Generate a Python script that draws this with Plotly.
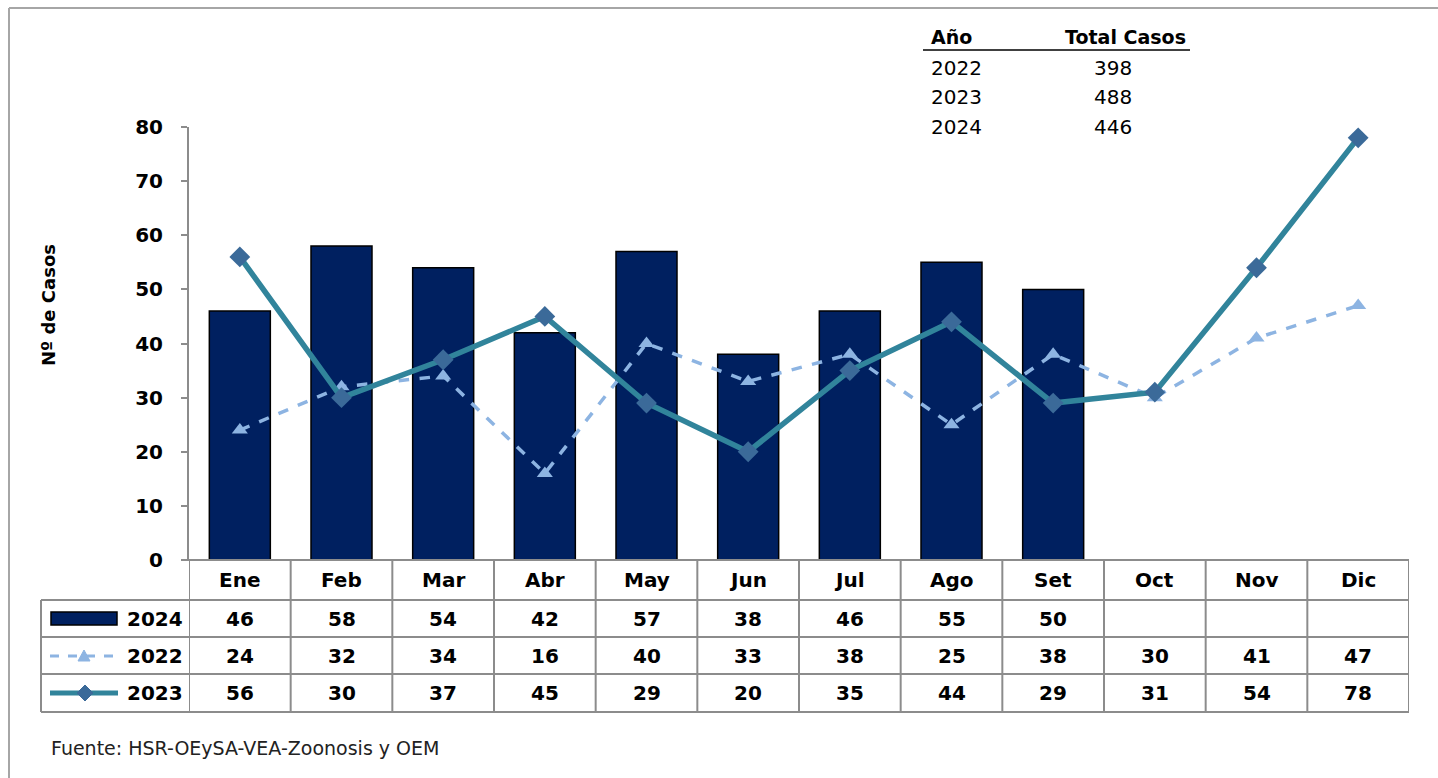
import plotly.graph_objects as go

months = ["Ene", "Feb", "Mar", "Abr", "May", "Jun", "Jul", "Ago", "Set", "Oct", "Nov", "Dic"]
cases_2024 = [46, 58, 54, 42, 57, 38, 46, 55, 50, None, None, None]
cases_2022 = [24, 32, 34, 16, 40, 33, 38, 25, 38, 30, 41, 47]
cases_2023 = [56, 30, 37, 45, 29, 20, 35, 44, 29, 31, 54, 78]
total_years = ["2022", "2023", "2024"]
total_cases = [398, 488, 446]
y_ticks = [0, 10, 20, 30, 40, 50, 60, 70, 80]

W, H = 1438, 778
NAVY = "#002060"
TEAL = "#31849B"
DIAM = "#3B6A99"
LBLUE = "#8DB4E2"
GRID = "#8C8C8C"
FONT = "DejaVu Sans"


def px(x):
    return x / W


def py(y):
    return 1 - y / H


fig = go.Figure()
fig.add_trace(go.Bar(x=months, y=cases_2024, name="2024", marker=dict(color=NAVY, line=dict(color="black", width=1.5)), width=0.6))
fig.add_trace(go.Scatter(x=months, y=cases_2022, name="2022", mode="lines+markers",
                         line=dict(color=LBLUE, width=3.5, dash="dash"),
                         marker=dict(symbol="triangle-up", size=14, color=LBLUE)))
fig.add_trace(go.Scatter(x=months, y=cases_2023, name="2023", mode="lines+markers",
                         line=dict(color=TEAL, width=5.5),
                         marker=dict(symbol="diamond", size=16, color=DIAM)))

shapes = []
annotations = []


def note(x, y, text, font, xref="paper", xanchor="center", **kw):
    d = dict(x=x, xref=xref, y=y, yref="paper", text=text, showarrow=False, font=font,
             xanchor=xanchor, yanchor="middle")
    d.update(kw)
    annotations.append(d)


# outer frame (left and top)
shapes.append(dict(type="line", xref="paper", yref="paper", x0=px(9), x1=px(9), y0=py(8), y1=py(H + 5), line=dict(color="#A6A6A6", width=2)))
shapes.append(dict(type="line", xref="paper", yref="paper", x0=px(9), x1=px(W + 5), y0=py(8), y1=py(8), line=dict(color="#A6A6A6", width=2)))

# data table grid
row_y = [560, 600, 637, 674, 712]
tbl_left, tbl_right = 41, 1409
shapes.append(dict(type="line", xref="paper", yref="paper", x0=px(182), x1=px(tbl_right), y0=py(560), y1=py(560), line=dict(color=GRID, width=2)))
for yy in row_y[1:]:
    shapes.append(dict(type="line", xref="paper", yref="paper", x0=px(tbl_left), x1=px(tbl_right), y0=py(yy), y1=py(yy), line=dict(color=GRID, width=2)))
shapes.append(dict(type="line", xref="paper", yref="paper", x0=px(tbl_left), x1=px(tbl_left), y0=py(600), y1=py(712), line=dict(color=GRID, width=2)))
for i in range(len(months) + 1):
    shapes.append(dict(type="line", xref="x", yref="paper", x0=i - 0.5, x1=i - 0.5, y0=py(560), y1=py(712), line=dict(color=GRID, width=2)))

BOLD = dict(size=20, color="black", family=FONT, weight="bold")

# header and values
for m in months:
    note(m, py(580), m, BOLD, xref="x")
row_centers = [618.5, 655.5, 693]
for vals, yc in zip([cases_2024, cases_2022, cases_2023], row_centers):
    for m, v in zip(months, vals):
        if v is not None:
            note(m, py(yc), str(v), BOLD, xref="x")
for name, yc in zip(["2024", "2022", "2023"], row_centers):
    note(px(185), py(yc), name, BOLD, xanchor="right")

# legend keys
shapes.append(dict(type="rect", xref="paper", yref="paper", x0=px(51), x1=px(117), y0=py(612), y1=py(625), fillcolor=NAVY, line=dict(color="black", width=1.5)))
shapes.append(dict(type="line", xref="paper", yref="paper", x0=px(50), x1=px(118), y0=py(656), y1=py(656), line=dict(color=LBLUE, width=3, dash="dash")))
tx, ty = 84, 656
shapes.append(dict(type="path", xref="paper", yref="paper", path=f"M {px(tx-6)},{py(ty+5)} L {px(tx+6)},{py(ty+5)} L {px(tx)},{py(ty-6)} Z", fillcolor=LBLUE, line=dict(color=LBLUE, width=1)))
shapes.append(dict(type="line", xref="paper", yref="paper", x0=px(50), x1=px(118), y0=py(693), y1=py(693), line=dict(color=TEAL, width=5)))
dx, dy = 85, 693
shapes.append(dict(type="path", xref="paper", yref="paper", path=f"M {px(dx-8)},{py(dy)} L {px(dx)},{py(dy-8)} L {px(dx+8)},{py(dy)} L {px(dx)},{py(dy+8)} Z", fillcolor=DIAM, line=dict(color=DIAM, width=1)))

# totals table
TF = dict(size=20, color="black", family=FONT)
TFB = dict(size=19, color="black", family=FONT, weight="bold")
note(px(929), py(37), "Año", TFB, xanchor="left")
note(px(1125), py(37), "Total Casos", TFB)
shapes.append(dict(type="line", xref="paper", yref="paper", x0=px(923), x1=px(1190), y0=py(50), y1=py(50), line=dict(color="black", width=1.5)))
for i, (yr, tot) in enumerate(zip(total_years, total_cases)):
    yc = 68 + i * 29.5
    note(px(929), py(yc), yr, TF, xanchor="left")
    note(px(1113), py(yc), str(tot), TF)

# axis title
note(px(48), py(305), "Nº de Casos", dict(size=18, color="black", family=FONT, weight="bold"), textangle=-90)

# source
note(px(49), py(748), "Fuente: HSR-OEySA-VEA-Zoonosis y OEM", dict(size=19, color="#222222", family=FONT), xanchor="left")

fig.update_layout(
    width=W, height=H, autosize=False,
    margin=dict(l=0, r=0, t=0, b=0, pad=0),
    paper_bgcolor="white", plot_bgcolor="white",
    showlegend=False,
    shapes=shapes, annotations=annotations,
    xaxis=dict(domain=[px(189), px(1409)], range=[-0.5, 11.5], showticklabels=False, showline=False, showgrid=False, zeroline=False, ticks="",
               automargin=False),
    yaxis=dict(domain=[py(560), py(127)], range=[0, 80], tickvals=y_ticks, ticks="outside", ticklen=6, tickcolor=GRID, tickwidth=2,
               showline=True, linecolor=GRID, linewidth=2, showgrid=False, zeroline=False, automargin=False, ticklabelstandoff=14,
               tickfont=dict(size=20, color="black", family=FONT, weight="bold")),
)

fig.write_html("out.html", config={"displayModeBar": False}, post_script="document.body.style.margin='0px';")
